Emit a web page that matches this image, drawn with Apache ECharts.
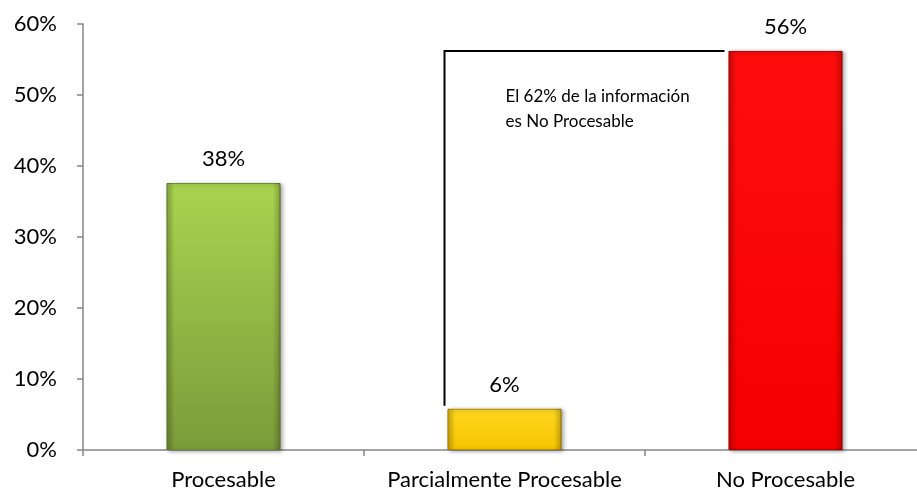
<!DOCTYPE html>
<html>
<head>
<meta charset="utf-8">
<script src="https://cdn.jsdelivr.net/npm/echarts@6/dist/echarts.min.js"></script>
<style>html,body{margin:0;padding:0;background:#fff}#c{width:917px;height:498px}</style>
</head>
<body>
<div id="c"></div>
<script>
const categories = ['Procesable', 'Parcialmente Procesable', 'No Procesable'];
const values = [37.6, 5.8, 56.2];
const yTicks = [0, 10, 20, 30, 40, 50, 60];
const noteText = ['El 62% de la información', 'es No Procesable'];
const bracket = [[1, 2, 56.2, 5.8]];

const FONT = 'Lato';
const FS = 22;
const BAR_W = 114;

const colors = [
  new echarts.graphic.LinearGradient(0, 0, 0, 1, [
    {offset: 0, color: '#a8d450'}, {offset: 1, color: '#7c9b3a'}
  ]),
  new echarts.graphic.LinearGradient(0, 0, 0, 1, [
    {offset: 0, color: '#ffd820'}, {offset: 1, color: '#f7c400'}
  ]),
  new echarts.graphic.LinearGradient(0, 0, 0, 1, [
    {offset: 0, color: '#ff0d0d'}, {offset: 1, color: '#f50000'}
  ])
];
const borders = ['#6f8c35', '#b89000', '#b80000'];
const edgeShade = new echarts.graphic.LinearGradient(0, 0, 1, 0, [
  {offset: 0, color: 'rgba(0,0,0,0.18)'},
  {offset: 0.07, color: 'rgba(0,0,0,0.0)'},
  {offset: 0.93, color: 'rgba(0,0,0,0.0)'},
  {offset: 1, color: 'rgba(0,0,0,0.22)'}
]);

const chart = echarts.init(document.getElementById('c'));
chart.setOption({
  animation: false,
  grid: {left: 83, top: 24, width: 843, height: 426, containLabel: false, outerBoundsMode: 'none'},
  xAxis: {
    type: 'category',
    data: categories,
    axisLine: {lineStyle: {color: '#868686', width: 1.5}},
    axisTick: {show: true, length: 6, lineStyle: {color: '#868686', width: 1.5}},
    axisLabel: {interval: 0, color: '#000', fontFamily: FONT, fontSize: FS, margin: 19}
  },
  yAxis: {
    type: 'value',
    min: 0, max: 60, interval: 10,
    axisLine: {show: true, lineStyle: {color: '#868686', width: 1.5}},
    axisTick: {show: true, length: 6, lineStyle: {color: '#868686', width: 1.5}},
    splitLine: {show: false},
    axisLabel: {color: '#000', fontFamily: FONT, fontSize: FS, margin: 26,
      formatter: v => yTicks.includes(v) ? v + '%' : ''}
  },
  series: [{
    type: 'bar',
    barWidth: BAR_W,
    data: values.map((v, i) => ({
      value: v,
      itemStyle: {color: colors[i], borderColor: borders[i], borderWidth: 1,
        shadowColor: 'rgba(0,0,0,0.35)', shadowBlur: 4, shadowOffsetX: 2, shadowOffsetY: 1}
    })),
    label: {show: true, position: 'top', distance: 13, color: '#000', fontFamily: FONT, fontSize: FS,
      formatter: p => Math.round(p.value) + '%'}
  }, {
    type: 'bar',
    barWidth: BAR_W,
    barGap: '-100%',
    silent: true,
    data: values,
    itemStyle: {color: edgeShade},
    z: 3
  }, {
    type: 'custom',
    coordinateSystem: 'cartesian2d',
    encode: {x: 0, y: 2},
    data: bracket,
    z: 5,
    renderItem: function (params, api) {
      const c1 = api.coord([api.value(0), api.value(2)]);
      const c2 = api.coord([api.value(1), api.value(2)]);
      const bottom = api.coord([api.value(0), api.value(3)]);
      const x1 = c1[0] - BAR_W / 2 - 3;
      const x2 = c2[0] - BAR_W / 2 - 4;
      const yTop = c1[1];
      const yBot = bottom[1] - 3;
      return {
        type: 'group',
        children: [{
          type: 'polyline',
          shape: {points: [[x1, yBot], [x1, yTop], [x2, yTop]]},
          style: {stroke: '#000', lineWidth: 2, fill: null}
        }, {
          type: 'text',
          style: {
            x: x1 + 61, y: yTop + 58,
            text: noteText.join('\n'),
            fontFamily: FONT, fontSize: 17, lineHeight: 25,
            fill: '#000', verticalAlign: 'middle', align: 'left'
          }
        }]
      };
    }
  }]
});
</script>
</body>
</html>
